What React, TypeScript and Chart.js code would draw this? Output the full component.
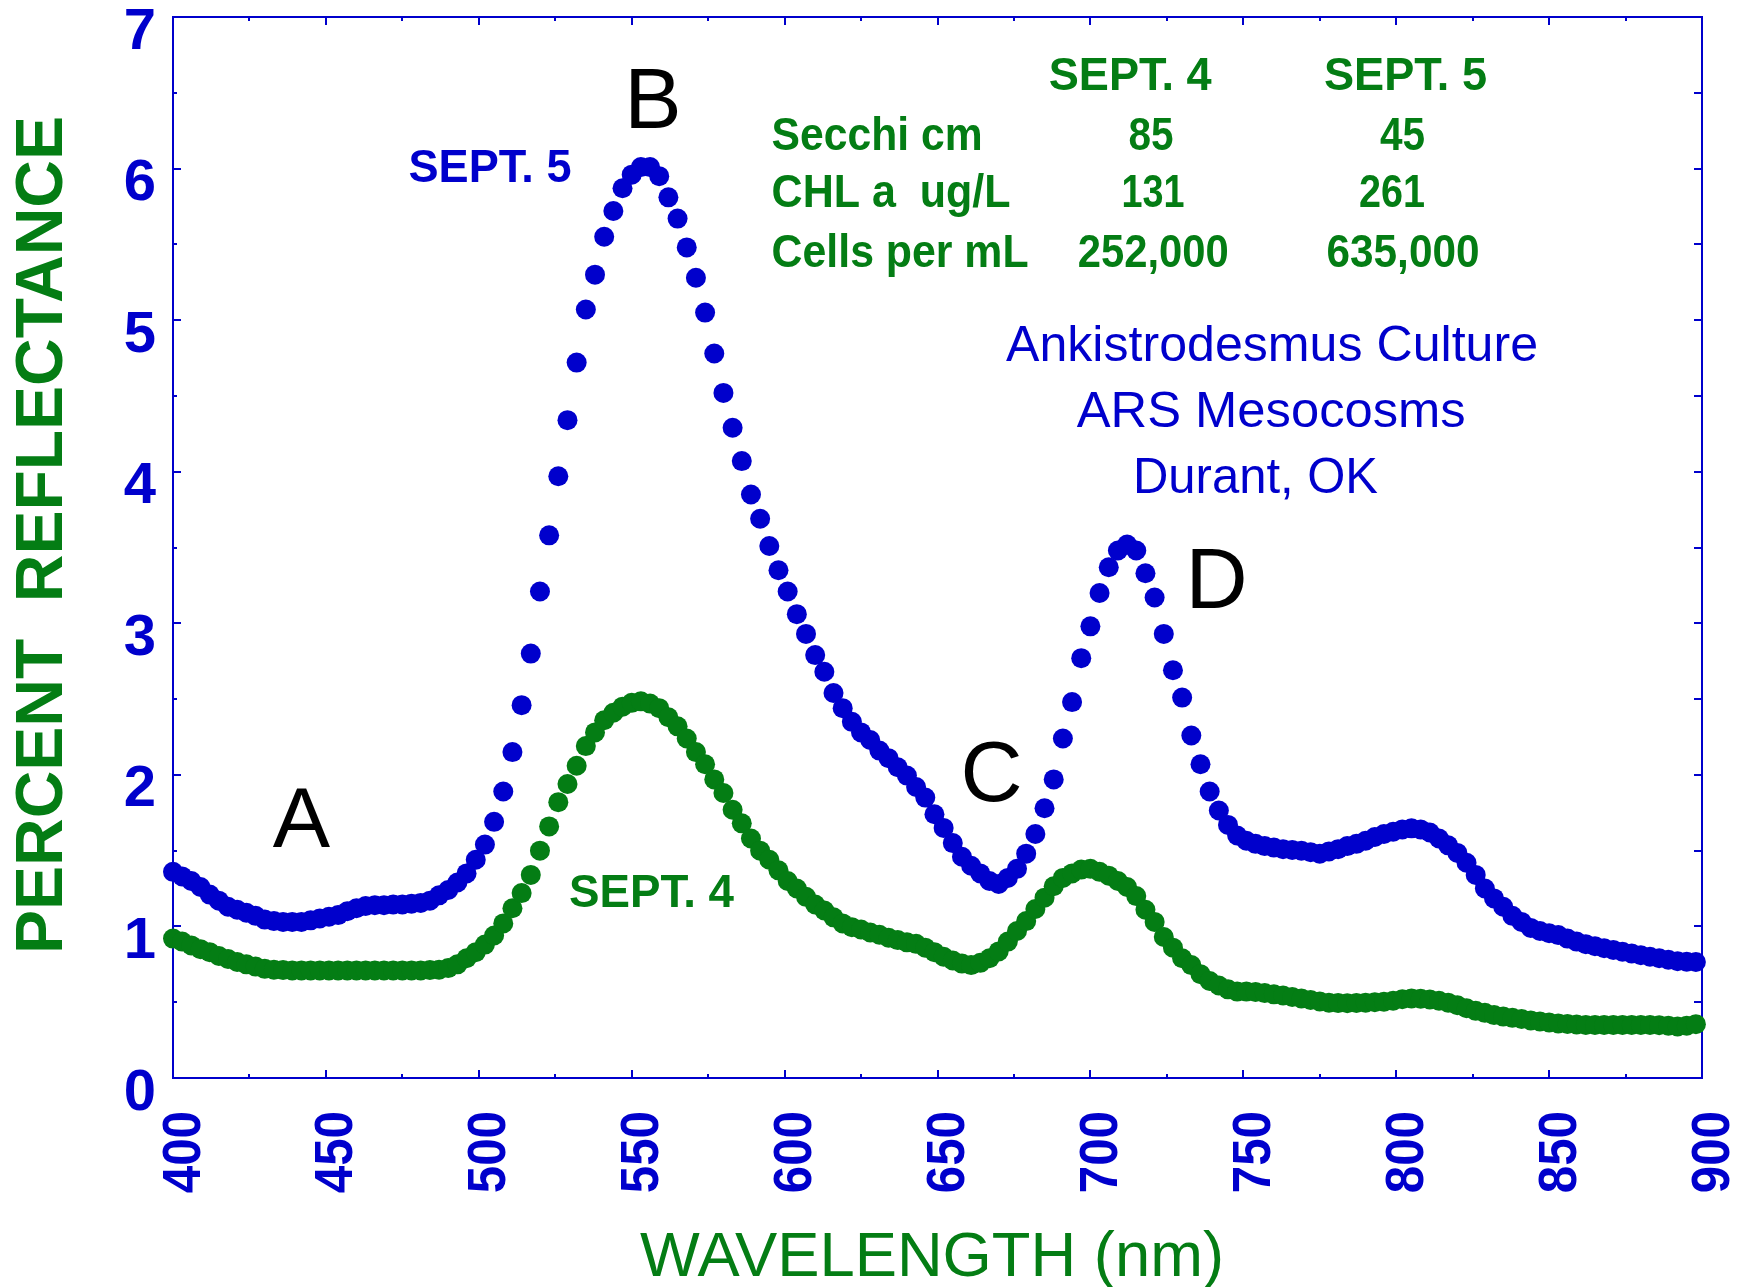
import React, { useEffect, useRef } from "react";
import { Chart, registerables } from "chart.js";

Chart.register(...registerables);

// ---------------- DATA ----------------
const WAVELENGTHS = [
  400, 403, 406, 409, 412, 415, 418, 421, 424, 427,
  430, 433, 436, 439, 442, 445, 448, 451, 454, 457,
  460, 463, 466, 469, 472, 475, 478, 481, 484, 487,
  490, 493, 496, 499, 502, 505, 508, 511, 514, 517,
  520, 523, 526, 529, 532, 535, 538, 541, 544, 547,
  550, 553, 556, 559, 562, 565, 568, 571, 574, 577,
  580, 583, 586, 589, 592, 595, 598, 601, 604, 607,
  610, 613, 616, 619, 622, 625, 628, 631, 634, 637,
  640, 643, 646, 649, 652, 655, 658, 661, 664, 667,
  670, 673, 676, 679, 682, 685, 688, 691, 694, 697,
  700, 703, 706, 709, 712, 715, 718, 721, 724, 727,
  730, 733, 736, 739, 742, 745, 748, 751, 754, 757,
  760, 763, 766, 769, 772, 775, 778, 781, 784, 787,
  790, 793, 796, 799, 802, 805, 808, 811, 814, 817,
  820, 823, 826, 829, 832, 835, 838, 841, 844, 847,
  850, 853, 856, 859, 862, 865, 868, 871, 874, 877,
  880, 883, 886, 889, 892, 895, 898,
];

const SEPT5 = [
  1.36, 1.33, 1.30, 1.26, 1.21, 1.17, 1.13, 1.11, 1.09, 1.07,
  1.045, 1.035, 1.03, 1.03, 1.03, 1.04, 1.053, 1.064, 1.075, 1.10,
  1.12, 1.135, 1.14, 1.14, 1.145, 1.145, 1.15, 1.155, 1.17, 1.205,
  1.24, 1.29, 1.35, 1.44, 1.54, 1.69, 1.89, 2.15, 2.46, 2.80,
  3.21, 3.58, 3.97, 4.34, 4.72, 5.07, 5.30, 5.55, 5.72, 5.87,
  5.96, 6.01, 6.01, 5.95, 5.81, 5.67, 5.48, 5.28, 5.05, 4.78,
  4.52, 4.29, 4.07, 3.85, 3.69, 3.51, 3.35, 3.21, 3.06, 2.93,
  2.79, 2.68, 2.54, 2.44, 2.35, 2.28, 2.23, 2.16, 2.11, 2.05,
  1.995, 1.92, 1.85, 1.74, 1.65, 1.55, 1.46, 1.40, 1.35, 1.30,
  1.28, 1.32, 1.38, 1.48, 1.61, 1.78, 1.97, 2.24, 2.48, 2.77,
  2.98, 3.20, 3.37, 3.48, 3.52, 3.48, 3.33, 3.17, 2.93, 2.69,
  2.51, 2.26, 2.07, 1.89, 1.765, 1.67, 1.60, 1.565, 1.545, 1.53,
  1.52, 1.51, 1.505, 1.50, 1.49, 1.48, 1.495, 1.51, 1.53, 1.545,
  1.565, 1.59, 1.61, 1.625, 1.64, 1.647, 1.64, 1.62, 1.58, 1.535,
  1.485, 1.42, 1.34, 1.25, 1.185, 1.13, 1.07, 1.03, 0.99, 0.97,
  0.955, 0.943, 0.92, 0.90, 0.883, 0.87, 0.856, 0.845, 0.833, 0.822,
  0.81, 0.80, 0.79, 0.78, 0.77, 0.767, 0.765,
];

const SEPT4 = [
  0.92, 0.90, 0.875, 0.85, 0.83, 0.805, 0.785, 0.765, 0.75, 0.735,
  0.72, 0.715, 0.712, 0.71, 0.71, 0.71, 0.71, 0.71, 0.71, 0.71,
  0.71, 0.71, 0.71, 0.71, 0.71, 0.71, 0.71, 0.71, 0.712, 0.715,
  0.725, 0.75, 0.79, 0.83, 0.88, 0.94, 1.02, 1.12, 1.22, 1.34,
  1.50, 1.66, 1.82, 1.94, 2.06, 2.19, 2.28, 2.36, 2.41, 2.45,
  2.475, 2.485, 2.47, 2.44, 2.38, 2.32, 2.24, 2.15, 2.07, 1.97,
  1.88, 1.77, 1.68, 1.58, 1.50, 1.44, 1.37, 1.30, 1.25, 1.195,
  1.145, 1.105, 1.06, 1.02, 0.995, 0.98, 0.96, 0.945, 0.925, 0.91,
  0.895, 0.885, 0.86, 0.83, 0.80, 0.775, 0.755, 0.745, 0.76, 0.79,
  0.835, 0.90, 0.97, 1.035, 1.115, 1.19, 1.265, 1.32, 1.35, 1.375,
  1.38, 1.36, 1.335, 1.30, 1.26, 1.20, 1.11, 1.03, 0.93, 0.86,
  0.79, 0.745, 0.685, 0.64, 0.61, 0.585, 0.57, 0.57, 0.568, 0.56,
  0.552, 0.544, 0.535, 0.525, 0.515, 0.505, 0.497, 0.494, 0.493, 0.495,
  0.497, 0.50, 0.503, 0.51, 0.52, 0.525, 0.523, 0.518, 0.51, 0.497,
  0.48, 0.46, 0.443, 0.43, 0.415, 0.405, 0.397, 0.39, 0.38, 0.373,
  0.366, 0.36, 0.356, 0.353, 0.35, 0.35, 0.35, 0.35, 0.35, 0.35,
  0.35, 0.35, 0.348, 0.345, 0.34, 0.345, 0.355,
];

const X_MIN = 400;
const X_MAX = 900;
const Y_MIN = 0;
const Y_MAX = 7;
const X_TICK_LABELS = [400, 450, 500, 550, 600, 650, 700, 750, 800, 850, 900];
const Y_TICK_LABELS = [0, 1, 2, 3, 4, 5, 6, 7];
const X_TICK_MARKS = [400, 425, 450, 475, 500, 525, 550, 575, 600, 625, 650, 675, 700, 725, 750, 775, 800, 825, 850, 875, 900];
const Y_TICK_MARKS = [0, 0.5, 1, 1.5, 2, 2.5, 3, 3.5, 4, 4.5, 5, 5.5, 6, 6.5, 7];

const TABLE_HEADERS = ["SEPT. 4", "SEPT. 5"];
const TABLE_ROWS = ["Secchi cm", "CHL a  ug/L", "Cells per mL"];
const TABLE_SEPT4 = ["85", "131", "252,000"];
const TABLE_SEPT5 = ["45", "261", "635,000"];
const SITE_LINES = ["Ankistrodesmus Culture", "ARS Mesocosms", "Durant, OK"];
const PEAK_LABELS = ["A", "B", "C", "D"];

const X_TITLE = "WAVELENGTH (nm)";
const Y_TITLE = "PERCENT  REFLECTANCE";

// ---------------- STYLE ----------------
const BLUE = "#0000CC";
const GREEN = "#047D14";
const FONT = '"Liberation Sans", Arial, Helvetica, sans-serif';

type TextOpts = {
  font: string;
  color: string;
  align?: CanvasTextAlign;
  width?: number;
  sx?: number;
  rotate?: number;
};

function drawText(ctx: CanvasRenderingContext2D, text: string, x: number, y: number, o: TextOpts) {
  ctx.save();
  ctx.font = o.font;
  ctx.fillStyle = o.color;
  ctx.textAlign = o.align || "left";
  ctx.textBaseline = "alphabetic";
  ctx.translate(x, y);
  if (o.rotate) ctx.rotate(o.rotate);
  if (o.width) {
    const w = ctx.measureText(text).width;
    if (w > 0) ctx.scale(o.width / w, 1);
  } else if (o.sx) {
    ctx.scale(o.sx, 1);
  }
  ctx.fillText(text, 0, 0);
  ctx.restore();
}

const framePlugin = {
  id: "frameTicks",
  beforeDatasetsDraw(chart: any) {
    const ctx: CanvasRenderingContext2D = chart.ctx;
    const { left, right, top, bottom } = chart.chartArea;
    const xs = chart.scales.x;
    const ys = chart.scales.y;
    ctx.save();
    ctx.strokeStyle = BLUE;
    ctx.lineWidth = 2;
    ctx.strokeRect(left, top, right - left, bottom - top);
    ctx.beginPath();
    X_TICK_MARKS.forEach((v) => {
      const px = Math.round(xs.getPixelForValue(v));
      const len = v % 50 === 0 ? 8 : 4;
      ctx.moveTo(px, bottom);
      ctx.lineTo(px, bottom - len);
      ctx.moveTo(px, top);
      ctx.lineTo(px, top + len);
    });
    Y_TICK_MARKS.forEach((v) => {
      const py = Math.round(ys.getPixelForValue(v));
      const len = v % 1 === 0 ? 8 : 4;
      ctx.moveTo(left, py);
      ctx.lineTo(left + len, py);
      ctx.moveTo(right, py);
      ctx.lineTo(right - 8, py);
    });
    ctx.stroke();
    ctx.restore();

    // tick labels
    const { bottom: b } = chart.chartArea;
    Y_TICK_LABELS.forEach((v) => {
      const py = ys.getPixelForValue(v);
      drawText(ctx, String(v), 156, py + 31.5, { font: `bold 58px ${FONT}`, color: BLUE, align: "right" });
    });
    X_TICK_LABELS.forEach((v) => {
      const px = xs.getPixelForValue(v);
      drawText(ctx, String(v), px + 26.5, b + 33, {
        font: `bold 53px ${FONT}`,
        color: BLUE,
        align: "right",
        rotate: -Math.PI / 2,
        sx: 0.93,
      });
    });
  },
  afterDraw(chart: any) {
    const ctx: CanvasRenderingContext2D = chart.ctx;
    // axis titles
    drawText(ctx, X_TITLE, 932, 1275.5, { font: `63px ${FONT}`, color: GREEN, align: "center", width: 584 });
    drawText(ctx, Y_TITLE, 61.5, 535, { font: `bold 67px ${FONT}`, color: GREEN, align: "center", width: 838, rotate: -Math.PI / 2 });

    // peak letters
    const peakPos = [
      [301.5, 847],
      [653, 128],
      [991.5, 801],
      [1216.5, 608],
    ];
    PEAK_LABELS.forEach((t, i) => {
      drawText(ctx, t, peakPos[i][0], peakPos[i][1], { font: `86px ${FONT}`, color: "#000000", align: "center" });
    });

    // series labels
    drawText(ctx, "SEPT. 5", 408.5, 182, { font: `bold 46px ${FONT}`, color: BLUE, width: 163 });
    drawText(ctx, "SEPT. 4", 569, 907, { font: `bold 46px ${FONT}`, color: GREEN, width: 165 });

    // table
    const bold = `bold 46px ${FONT}`;
    drawText(ctx, TABLE_HEADERS[0], 1048.7, 90, { font: bold, color: GREEN, width: 163 });
    drawText(ctx, TABLE_HEADERS[1], 1324, 90, { font: bold, color: GREEN, width: 163 });
    const rowY = [149.5, 207, 266.5];
    const rowW = [211, 239, 257];
    const c4 = [1151, 1153, 1153.3];
    const c5 = [1402.6, 1392, 1403];
    const w4 = [45, 63, 151];
    const w5 = [45, 66, 153];
    TABLE_ROWS.forEach((r, i) => {
      drawText(ctx, r, 771.6, rowY[i], { font: bold, color: GREEN, width: rowW[i] });
      drawText(ctx, TABLE_SEPT4[i], c4[i], rowY[i], { font: bold, color: GREEN, align: "center", width: w4[i] });
      drawText(ctx, TABLE_SEPT5[i], c5[i], rowY[i], { font: bold, color: GREEN, align: "center", width: w5[i] });
    });

    // site info
    const siteX = [1006, 1076.7, 1133];
    const siteY = [360.7, 426.7, 493];
    const siteW = [532, 389, 245];
    SITE_LINES.forEach((t, i) => {
      drawText(ctx, t, siteX[i], siteY[i], { font: `50px ${FONT}`, color: BLUE, width: siteW[i] });
    });
  },
};

export default function App() {
  const canvasRef = useRef<HTMLCanvasElement | null>(null);

  useEffect(() => {
    const canvas = canvasRef.current;
    if (!canvas) return;
    const toPoints = (ys: number[]) => WAVELENGTHS.map((x, i) => ({ x, y: ys[i] }));
    const chart = new Chart(canvas, {
      type: "scatter",
      data: {
        datasets: [
          {
            label: "SEPT. 4",
            data: toPoints(SEPT4),
            backgroundColor: GREEN,
            borderColor: GREEN,
            borderWidth: 0,
            pointRadius: 10,
            pointHoverRadius: 10,
            showLine: false,
            clip: false as any,
          },
          {
            label: "SEPT. 5",
            data: toPoints(SEPT5),
            backgroundColor: BLUE,
            borderColor: BLUE,
            borderWidth: 0,
            pointRadius: 10,
            pointHoverRadius: 10,
            showLine: false,
            clip: false as any,
          },
        ],
      },
      options: {
        animation: false,
        responsive: false,
        devicePixelRatio: 1,
        events: [],
        layout: {
          autoPadding: false,
          padding: { top: 17, right: 48, left: 0, bottom: 0 },
        },
        plugins: {
          legend: { display: false },
          tooltip: { enabled: false },
          title: { display: false },
        },
        scales: {
          x: {
            type: "linear",
            position: "bottom",
            min: X_MIN,
            max: X_MAX,
            grid: { display: false, drawTicks: false },
            border: { display: false },
            ticks: { display: false, stepSize: 50 },
            afterFit: (scale: any) => {
              scale.height = 209;
            },
          },
          y: {
            type: "linear",
            position: "left",
            min: Y_MIN,
            max: Y_MAX,
            grid: { display: false, drawTicks: false },
            border: { display: false },
            ticks: { display: false, stepSize: 1 },
            afterFit: (scale: any) => {
              scale.width = 173;
            },
          },
        },
      } as any,
      plugins: [framePlugin],
    });
    return () => chart.destroy();
  }, []);

  return (
    <div style={{ position: "fixed", left: 0, top: 0, width: 1750, height: 1287, background: "#ffffff" }}>
      <canvas ref={canvasRef} width={1750} height={1287} style={{ display: "block" }} />
    </div>
  );
}
